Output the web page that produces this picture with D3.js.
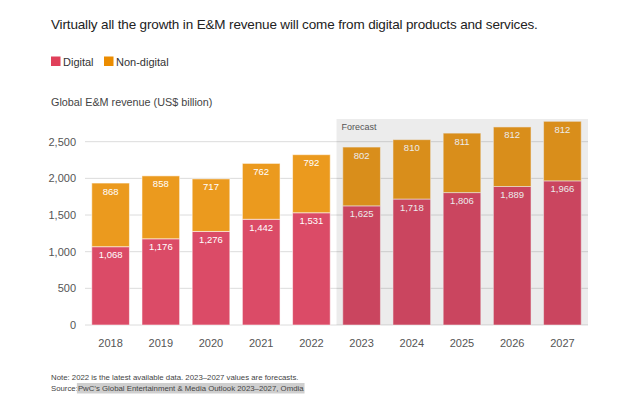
<!DOCTYPE html>
<html>
<head>
<meta charset="utf-8">
<script src="https://cdn.jsdelivr.net/npm/d3@7"></script>
<style>
  body { margin: 0; background: #fff; font-family: "Liberation Sans", Arial, Helvetica, sans-serif; }
</style>
</head>
<body>
<div id="chart"></div>
<script>
const years = ["2018", "2019", "2020", "2021", "2022", "2023", "2024", "2025", "2026", "2027"];
const digital = [1068, 1176, 1276, 1442, 1531, 1625, 1718, 1806, 1889, 1966];
const nonDigital = [868, 858, 717, 762, 792, 802, 810, 811, 812, 812];
const forecastYears = ["2023", "2024", "2025", "2026", "2027"];
const yTicks = [0, 500, 1000, 1500, 2000, 2500];

const width = 630;
const height = 404;
const margin = { top: 119, right: 42, bottom: 79, left: 85 };
const textLeft = 51;

const svg = d3.select("#chart")
    .append("svg")
    .attr("width", width)
    .attr("height", height)
    .style("font-family", "'Liberation Sans', Arial, sans-serif");

// Title
svg.append("text")
    .attr("x", textLeft)
    .attr("y", 29)
    .style("font-size", "13.5px")
    .style("letter-spacing", "-0.15px")
    .style("fill", "#222")
    .text("Virtually all the growth in E&M revenue will come from digital products and services.");

// Legend
const legend = [
    { label: "Digital", color: "#e0405a", x: textLeft },
    { label: "Non-digital", color: "#eb8c00", x: 104 }
];
legend.forEach(l => {
    svg.append("rect")
        .attr("x", l.x).attr("y", 56.5)
        .attr("width", 9.5).attr("height", 9.5)
        .attr("fill", l.color);
    svg.append("text")
        .attr("x", l.x + 12).attr("y", 65.5)
        .style("font-size", "11px")
        .style("fill", "#333")
        .text(l.label);
});

// Axis title
svg.append("text")
    .attr("x", textLeft)
    .attr("y", 106)
    .style("font-size", "10.8px")
    .style("fill", "#444")
    .text("Global E&M revenue (US$ billion)");

const x = d3.scaleBand()
    .domain(years)
    .range([margin.left, width - margin.right])
    .paddingInner(0.25)
    .paddingOuter(0.135);

const y = d3.scaleLinear()
    .domain([0, 2810])
    .range([325, 325 - 2810 * (183.3 / 2500)]);

// Gridlines
svg.append("g")
    .selectAll("line")
    .data(yTicks)
    .enter().append("line")
    .attr("x1", margin.left)
    .attr("x2", width - margin.right)
    .attr("y1", d => y(d))
    .attr("y2", d => y(d))
    .attr("stroke", "#dcdcdc")
    .attr("stroke-width", 1);

// Y axis labels
svg.append("g")
    .selectAll("text")
    .data(yTicks)
    .enter().append("text")
    .attr("x", 76)
    .attr("y", d => y(d))
    .attr("dy", "0.35em")
    .attr("text-anchor", "end")
    .style("font-size", "11px")
    .style("fill", "#555")
    .text(d => d3.format(",")(d));

// Bars
const stackData = years.map((yr, i) => ({ year: yr, digital: digital[i], nonDigital: nonDigital[i] }));
const series = d3.stack().keys(["digital", "nonDigital"])(stackData);
const barColors = { digital: "#db4b67", nonDigital: "#eb9a1e" };

series.forEach(s => {
    const g = svg.append("g");
    g.selectAll("rect")
        .data(s)
        .enter().append("rect")
        .attr("x", d => x(d.data.year))
        .attr("width", x.bandwidth())
        .attr("y", d => y(d[1]))
        .attr("height", d => y(d[0]) - y(d[1]))
        .attr("fill", barColors[s.key])
        .attr("stroke", "rgba(255,255,255,0.55)")
        .attr("stroke-width", 1);
    g.selectAll("text")
        .data(s)
        .enter().append("text")
        .attr("x", d => x(d.data.year) + x.bandwidth() / 2)
        .attr("y", d => y(d[1]) + 11.5)
        .attr("text-anchor", "middle")
        .style("font-size", "9.5px")
        .style("fill", "#fff")
        .text(d => d3.format(",")(d.data[s.key]));
});

// Forecast shading (drawn over the bars)
const step = x.step();
const fx0 = x(forecastYears[0]) - (step - x.bandwidth()) / 2;
svg.append("rect")
    .attr("x", fx0)
    .attr("y", margin.top)
    .attr("width", width - margin.right - fx0)
    .attr("height", y(0) - margin.top)
    .attr("fill", "#000")
    .attr("fill-opacity", 0.075);

svg.append("text")
    .attr("x", fx0 + 5)
    .attr("y", margin.top + 10.5)
    .style("font-size", "9px")
    .style("fill", "#555")
    .text("Forecast");

// X axis labels
svg.append("g")
    .selectAll("text")
    .data(years)
    .enter().append("text")
    .attr("x", d => x(d) + x.bandwidth() / 2)
    .attr("y", 347)
    .attr("text-anchor", "middle")
    .style("font-size", "11px")
    .style("fill", "#555")
    .text(d => d);

// Notes
svg.append("text")
    .attr("x", textLeft)
    .attr("y", 380)
    .style("font-size", "7.8px")
    .style("fill", "#444")
    .text("Note: 2022 is the latest available data. 2023\u20132027 values are forecasts.");

const srcLabel = svg.append("text")
    .attr("x", textLeft)
    .attr("y", 391)
    .style("font-size", "7.8px")
    .style("fill", "#444")
    .text("Source: ");
const srcW = srcLabel.node().getComputedTextLength();
const srcText = "PwC\u2019s Global Entertainment & Media Outlook 2023\u20132027, Omdia";
const hl = svg.append("rect")
    .attr("x", textLeft + srcW - 1)
    .attr("y", 383)
    .attr("height", 10.5)
    .attr("fill", "#cfcfcf");
const srcT = svg.append("text")
    .attr("x", textLeft + srcW)
    .attr("y", 391)
    .style("font-size", "7.8px")
    .style("fill", "#444")
    .text(srcText);
hl.attr("width", srcT.node().getComputedTextLength() + 2);
</script>
</body>
</html>
